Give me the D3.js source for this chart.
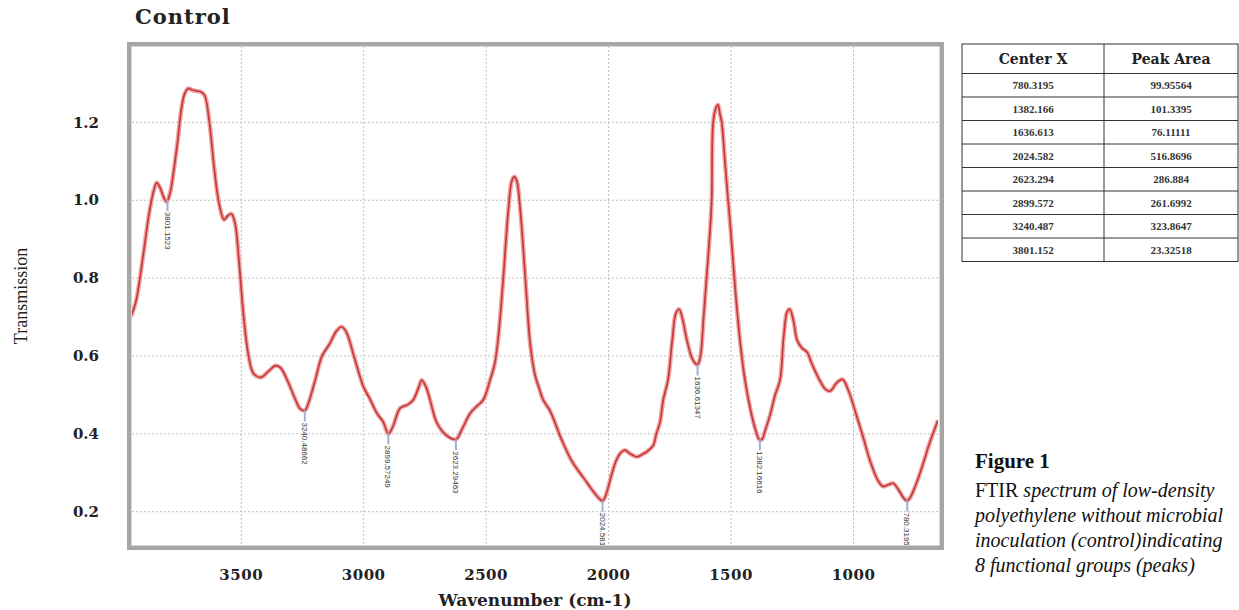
<!DOCTYPE html>
<html><head><meta charset="utf-8">
<script src="https://cdn.jsdelivr.net/npm/d3@7"></script>
<style>body{margin:0;background:#fff}svg{display:block}</style>
</head><body>
<svg id="c" width="1239" height="610"></svg>
<script>
// ---- data ----
const wavenumbers = [3951,3930,3900,3875,3855,3845,3830,3815,3804,3790,3777,3760,3743,3730,3716,3700,3680,3668,3650,3630,3610,3590,3570,3555,3540,3525,3510,3490,3470,3450,3420,3390,3360,3340,3310,3280,3260,3240,3225,3198,3170,3140,3110,3090,3070,3040,3001,2975,2946,2920,2899,2880,2851,2820,2798,2775,2763,2745,2729,2701,2660,2623,2600,2565,2540,2512,2484,2465,2450,2430,2410,2395,2385,2375,2360,2340,2320,2300,2285,2267,2240,2191,2150,2100,2060,2035,2024,2010,1990,1970,1950,1933,1910,1885,1860,1840,1818,1805,1790,1777,1757,1740,1725,1712,1700,1680,1660,1645,1636,1625,1612,1600,1586,1579,1573,1560,1553,1545,1538,1525,1512,1501,1480,1460,1443,1420,1400,1385,1374,1360,1340,1320,1300,1285,1270,1260,1245,1230,1210,1190,1170,1140,1115,1095,1070,1045,1020,989,960,932,900,879,855,838,815,795,782,770,745,715,690,670,655];
const transmission = [0.70,0.74,0.86,0.97,1.03,1.045,1.03,1.005,0.996,1.02,1.07,1.15,1.24,1.275,1.287,1.283,1.28,1.279,1.27,1.2,1.08,0.99,0.95,0.96,0.965,0.94,0.85,0.70,0.60,0.555,0.545,0.56,0.575,0.57,0.535,0.49,0.465,0.46,0.48,0.538,0.60,0.63,0.665,0.675,0.66,0.60,0.521,0.49,0.453,0.43,0.40,0.42,0.466,0.475,0.487,0.52,0.538,0.52,0.487,0.428,0.395,0.386,0.41,0.453,0.47,0.487,0.538,0.58,0.65,0.80,0.97,1.05,1.06,1.05,0.97,0.80,0.63,0.55,0.52,0.487,0.46,0.384,0.33,0.285,0.25,0.232,0.228,0.245,0.29,0.33,0.352,0.358,0.348,0.341,0.348,0.356,0.37,0.40,0.43,0.487,0.54,0.64,0.71,0.72,0.70,0.64,0.595,0.58,0.578,0.60,0.70,0.80,0.92,1.0,1.2,1.24,1.245,1.22,1.2,1.1,1.0,0.92,0.75,0.62,0.538,0.46,0.41,0.386,0.386,0.41,0.45,0.50,0.538,0.65,0.715,0.72,0.69,0.64,0.62,0.61,0.58,0.54,0.515,0.51,0.53,0.54,0.51,0.45,0.39,0.33,0.28,0.265,0.27,0.273,0.255,0.235,0.228,0.235,0.27,0.325,0.375,0.41,0.435];
const peakWavenumbers = [3801.1523,3240.48662,2899.57249,2623.29463,2024.58179,1636.61347,1382.16616,780.31957];
const peakLabels = ["3801.1523","3240.48662","2899.57249","2623.29463","2024.58179","1636.61347","1382.16616","780.31957"];
const xTicks = [3500,3000,2500,2000,1500,1000];
const yTicks = [0.2,0.4,0.6,0.8,1.0,1.2];
const tableHeader = ["Center X","Peak Area"];
const centerX = ["780.3195","1382.166","1636.613","2024.582","2623.294","2899.572","3240.487","3801.152"];
const peakArea = ["99.95564","101.3395","76.11111","516.8696","286.884","261.6992","323.8647","23.32518"];
const title = "Control";
const xTitle = "Wavenumber (cm-1)";
const yTitle = "Transmission";
const captionHead = "Figure 1";
const captionLines = [["FTIR"," spectrum of low-density"],["","polyethylene without microbial"],["","inoculation (control)indicating"],["","8 functional groups (peaks)"]];

// ---- layout ----
const svg = d3.select("#c");
const L = 132, R = 938, T = 46, B = 546;
const x = d3.scaleLinear().domain([3946, 655]).range([L, R]);
const y = d3.scaleLinear().domain([0.112, 1.396]).range([B, T]);
const serifB = "'DejaVu Serif', serif";
const serif = "'Liberation Serif', 'Times New Roman', serif";

svg.append("rect").attr("x",L).attr("y",T).attr("width",R-L).attr("height",B-T).attr("fill","#fff");

// grid
const grid = svg.append("g");
grid.selectAll("line.v").data(xTicks).join("line")
  .attr("x1",d=>x(d)).attr("x2",d=>x(d)).attr("y1",T).attr("y2",B)
  .attr("stroke","#bdbdbd").attr("stroke-width",1).attr("stroke-dasharray","2,2");
grid.selectAll("line.h").data(yTicks).join("line")
  .attr("y1",d=>y(d)).attr("y2",d=>y(d)).attr("x1",L).attr("x2",R)
  .attr("stroke","#bdbdbd").attr("stroke-width",1).attr("stroke-dasharray","2,2");

// curve
const pts = wavenumbers.map((w,i)=>[w,transmission[i]]);
svg.append("clipPath").attr("id","clip").append("rect").attr("x",L).attr("y",T).attr("width",R-L).attr("height",B-T);
const line = d3.line().x(d=>x(d[0])).y(d=>y(d[1])).curve(d3.curveCatmullRom.alpha(0.5));
const cg = svg.append("g").attr("clip-path","url(#clip)");
cg.append("path").attr("d",line(pts)).attr("fill","none").attr("stroke","#eeaaaa").attr("stroke-width",4.5).attr("stroke-linejoin","round");
cg.append("path").attr("d",line(pts)).attr("fill","none").attr("stroke","#c83838").attr("stroke-width",1.7).attr("stroke-linejoin","round");

// peak markers (clipped to plot area)
function valAt(w){
  for(let i=0;i<wavenumbers.length-1;i++){
    const a=wavenumbers[i], b=wavenumbers[i+1];
    if(w<=a && w>=b){ const t=(a-w)/(a-b); return transmission[i]+(transmission[i+1]-transmission[i])*t; }
  }
  return transmission[transmission.length-1];
}
const pk = svg.append("g").attr("clip-path","url(#clip)");
peakWavenumbers.forEach((w,i)=>{
  const px = x(w), py = y(valAt(w));
  pk.append("line").attr("x1",px).attr("x2",px).attr("y1",py).attr("y2",py+11).attr("stroke","#9fb2d6").attr("stroke-width",2);
  pk.append("text").attr("transform",`translate(${px},${py+12}) rotate(90)`)
    .attr("dy","0.35em").attr("font-family","'Liberation Sans', Arial, sans-serif").attr("font-size",8)
    .attr("fill","#333").text(peakLabels[i]);
});

// frame
svg.append("rect").attr("x",129).attr("y",44).attr("width",813).attr("height",504)
  .attr("fill","none").attr("stroke","#a6a6a6").attr("stroke-width",4);
svg.append("rect").attr("x",131.5).attr("y",46.5).attr("width",808).attr("height",499)
  .attr("fill","none").attr("stroke","#d6d6d6").attr("stroke-width",1);

// axes labels
svg.append("g").selectAll("text").data(yTicks).join("text")
  .attr("x",99).attr("y",d=>y(d)).attr("dy","0.35em").attr("text-anchor","end")
  .attr("font-family",serifB).attr("font-weight","bold").attr("font-size",15).attr("fill","#222")
  .text(d=>d3.format(".1f")(d));
svg.append("g").selectAll("text").data(xTicks).join("text")
  .attr("x",d=>x(d)).attr("y",580).attr("text-anchor","middle")
  .attr("font-family",serifB).attr("font-weight","bold").attr("font-size",15).attr("letter-spacing",0.5).attr("fill","#222")
  .text(d=>d);
svg.append("text").attr("x",(L+R)/2).attr("y",606).attr("text-anchor","middle")
  .attr("font-family",serifB).attr("font-weight","bold").attr("font-size",17).attr("fill","#222").text(xTitle);
svg.append("text").attr("transform",`translate(27,${(T+B)/2}) rotate(-90)`).attr("text-anchor","middle")
  .attr("font-family",serif).attr("font-size",18).attr("fill","#222").text(yTitle);
svg.append("text").attr("x",135).attr("y",24)
  .attr("font-family",serifB).attr("font-weight","bold").attr("font-size",21).attr("letter-spacing",1).attr("fill","#222").text(title);

// table
const tx = 962, tw = [142, 134], th0 = 29.5, rh = 23.5, ty = 44;
const tg = svg.append("g");
const rows = centerX.map((c,i)=>[c,peakArea[i]]);
const totalH = th0 + rh*rows.length;
tg.append("rect").attr("x",tx).attr("y",ty).attr("width",tw[0]+tw[1]).attr("height",totalH).attr("fill","none").attr("stroke","#333").attr("stroke-width",1);
tg.append("line").attr("x1",tx+tw[0]).attr("x2",tx+tw[0]).attr("y1",ty).attr("y2",ty+totalH).attr("stroke","#333");
tableHeader.forEach((h,j)=>{
  tg.append("text").attr("x",tx+(j===0?tw[0]/2:tw[0]+tw[1]/2)).attr("y",ty+th0/2).attr("dy","0.35em").attr("text-anchor","middle")
    .attr("font-family",serifB).attr("font-weight","bold").attr("font-size",14).attr("fill","#222").text(h);
});
rows.forEach((r,i)=>{
  const ry = ty+th0+rh*i;
  tg.append("line").attr("x1",tx).attr("x2",tx+tw[0]+tw[1]).attr("y1",ry).attr("y2",ry).attr("stroke","#333");
  r.forEach((v,j)=>{
    tg.append("text").attr("x",tx+(j===0?tw[0]/2:tw[0]+tw[1]/2)).attr("y",ry+rh/2).attr("dy","0.35em").attr("text-anchor","middle")
      .attr("font-family",serif).attr("font-weight","bold").attr("font-size",11).attr("fill","#333").text(v);
  });
});

// caption
svg.append("text").attr("x",975).attr("y",468).attr("font-family",serif).attr("font-weight","bold").attr("font-size",21).attr("fill","#111").text(captionHead);
captionLines.forEach((ln,i)=>{
  const t = svg.append("text").attr("x",975).attr("y",497+25*i).attr("font-family",serif).attr("font-size",20).attr("fill","#111");
  if(ln[0]) t.append("tspan").text(ln[0]);
  t.append("tspan").attr("font-style","italic").text(ln[1]);
});
</script>
</body></html>
